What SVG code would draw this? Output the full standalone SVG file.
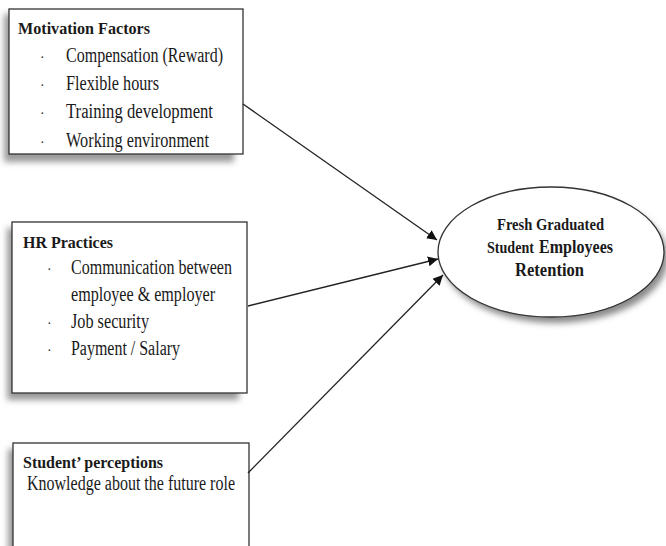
<svg xmlns="http://www.w3.org/2000/svg" width="666" height="546" viewBox="0 0 666 546">
<defs>
<style>
.box{fill:#fff;stroke:#333;stroke-width:1.3}
.shadow{fill:#9a9a9a;filter:url(#blur)}
.h{font-family:"Liberation Serif","Times New Roman",serif;font-weight:bold;fill:#1a1a1a}
.t{font-family:"Liberation Serif","Times New Roman",serif;fill:#1a1a1a;font-size:20px}
.b{font-family:"Liberation Serif","Times New Roman",serif;fill:#333;font-size:14px}
.conn{stroke:#222;stroke-width:1.3;fill:none;marker-end:url(#arr)}
</style>
<filter id="blur" x="-20%" y="-20%" width="140%" height="140%"><feGaussianBlur stdDeviation="3"/></filter>
<marker id="arr" viewBox="0 0 10 10" refX="10" refY="5" markerWidth="10" markerHeight="10" markerUnits="userSpaceOnUse" orient="auto">
<path d="M0,0 L10,5 L0,10 z" fill="#111"/>
</marker>
</defs>
<rect width="666" height="546" fill="#fff"/>

<g id="motivation">
<rect class="shadow" x="4" y="14" width="230" height="148"/>
<rect class="box" x="9" y="9" width="234" height="145"/>
<text class="h" x="18" y="34" font-size="16" textLength="132" lengthAdjust="spacingAndGlyphs">Motivation Factors</text>
<text class="b" x="40" y="62">·</text>
<text class="t" x="66" y="62" textLength="157" lengthAdjust="spacingAndGlyphs">Compensation (Reward)</text>
<text class="b" x="40" y="90">·</text>
<text class="t" x="66" y="90" textLength="93" lengthAdjust="spacingAndGlyphs">Flexible hours</text>
<text class="b" x="40" y="118">·</text>
<text class="t" x="66" y="118" textLength="147" lengthAdjust="spacingAndGlyphs">Training development</text>
<text class="b" x="40" y="147">·</text>
<text class="t" x="66" y="147" textLength="143" lengthAdjust="spacingAndGlyphs">Working environment</text>
</g>

<g id="hr">
<rect class="shadow" x="7" y="228" width="232" height="172"/>
<rect class="box" x="12" y="222" width="235" height="171"/>
<text class="h" x="23" y="248" font-size="16" textLength="90" lengthAdjust="spacingAndGlyphs">HR Practices</text>
<text class="b" x="47" y="274">·</text>
<text class="t" x="71" y="274" textLength="161" lengthAdjust="spacingAndGlyphs">Communication between</text>
<text class="t" x="71" y="301" textLength="144" lengthAdjust="spacingAndGlyphs">employee &amp; employer</text>
<text class="b" x="47" y="328">·</text>
<text class="t" x="71" y="328" textLength="78" lengthAdjust="spacingAndGlyphs">Job security</text>
<text class="b" x="47" y="355">·</text>
<text class="t" x="71" y="355" textLength="109" lengthAdjust="spacingAndGlyphs">Payment / Salary</text>
</g>

<g id="perceptions">
<rect class="shadow" x="8" y="449" width="234" height="110"/>
<rect class="box" x="13" y="443" width="236" height="115"/>
<text class="h" x="23" y="468" font-size="16" textLength="140" lengthAdjust="spacingAndGlyphs">Student’ perceptions</text>
<text class="t" x="27" y="490" textLength="208" lengthAdjust="spacingAndGlyphs">Knowledge about the future role</text>
</g>

<g id="retention">
<ellipse cx="555" cy="258" rx="113" ry="65" fill="#8a8a8a" filter="url(#blur)"/>
<ellipse cx="551" cy="252" rx="113" ry="65" fill="#fff" stroke="#333" stroke-width="1.3"/>
<text class="h" x="497" y="230" font-size="17" textLength="107" lengthAdjust="spacingAndGlyphs">Fresh Graduated</text>
<text class="h" x="487" y="253" font-size="16" textLength="47" lengthAdjust="spacingAndGlyphs">Student</text>
<text class="h" x="539" y="253" font-size="19" textLength="74" lengthAdjust="spacingAndGlyphs">Employees</text>
<text class="h" x="515" y="276" font-size="19" textLength="69" lengthAdjust="spacingAndGlyphs">Retention</text>
</g>

<g id="connectors">
<line class="conn" x1="243" y1="104" x2="437" y2="240"/>
<line class="conn" x1="248" y1="306" x2="438" y2="259"/>
<line class="conn" x1="248" y1="473" x2="443" y2="275"/>
</g>
</svg>
